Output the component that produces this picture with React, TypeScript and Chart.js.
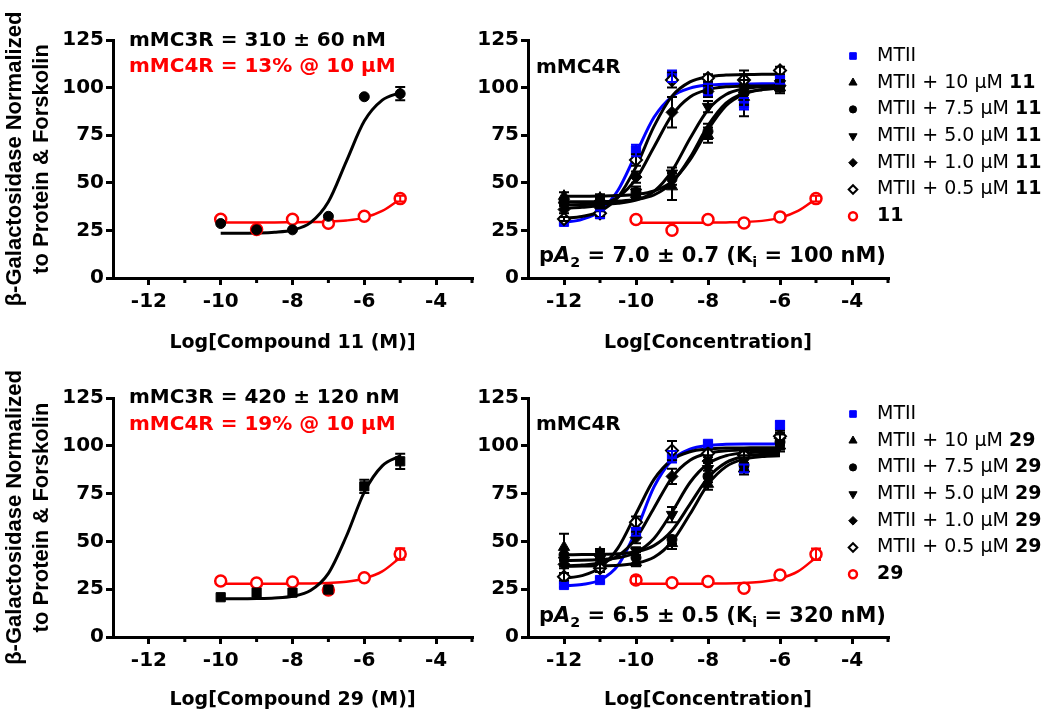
import React, { useEffect, useRef } from "react";
import { Chart, registerables } from "chart.js";

Chart.register(...registerables);

// ---------------- axes ----------------
const X_MIN = -13;
const X_MAX = -3;
const X_TICKS = [-12, -10, -8, -6, -4];
const X_MINOR_TICKS = [-11, -9, -7, -5, -3];
const Y_MIN = 0;
const Y_MAX = 125;
const Y_STEP = 25;

// ---------------- x values ----------------
const AGONIST_X = [-12, -11, -10, -9, -8, -7, -6];
const AGONIST_CURVE_X = [-12, -11.5, -11, -10.5, -10, -9.5, -9, -8.5, -8, -7.5, -7, -6.5, -6];
const COMPOUND_X = [-10, -9, -8, -7, -6, -5];
const COMPOUND_CURVE_X = [-10, -9.5, -9, -8.5, -8, -7.5, -7, -6.5, -6, -5.5, -5];

// ---------------- top-left: compound 11 ----------------
const C11_MC3R = [28.6, 25.3, 25.3, 32.4, 95.2, 96.8];
const C11_MC3R_ERR = [0, 0, 0, 0, 0, 3.5];
const C11_MC3R_FIT = [23.5, 23.5, 23.6, 24.0, 25.2, 29.1, 40.1, 61.3, 82.4, 93.4, 97.4];
const C11_MC4R = [30.9, 25.5, 30.9, 28.8, 32.4, 41.7];
const C11_MC4R_ERR = [0, 0, 0, 0, 0, 1.5];
const C11_MC4R_FIT = [29.2, 29.2, 29.2, 29.2, 29.3, 29.4, 29.6, 30.2, 31.7, 35.2, 41.5];

// ---------------- bottom-left: compound 29 ----------------
const C29_MC3R = [20.8, 23.2, 23.2, 24.8, 78.8, 91.9];
const C29_MC3R_ERR = [0, 0, 0, 0, 3.5, 4];
const C29_MC3R_FIT = [20.0, 20.0, 20.1, 20.4, 21.3, 24.3, 33.3, 52.7, 75.8, 89.5, 94.7];
const C29_MC4R = [29.3, 28.2, 28.8, 24.6, 31.0, 43.4];
const C29_MC4R_ERR = [0, 0, 0, 0, 0, 3];
const C29_MC4R_FIT = [27.8, 27.8, 27.8, 27.8, 27.9, 28.0, 28.3, 28.9, 30.6, 34.3, 41.6];

// ---------------- top-right: MTII + compound 11 at mMC4R ----------------
const TR_MTII = [29.5, 33.5, 67, 106, 99, 91.5, 104];
const TR_MTII_ERR = [0, 2, 3, 3, 3, 3, 2];
const TR_MTII_FIT = [29.2, 30.8, 35.2, 46.1, 65.3, 84.4, 95.3, 99.7, 101.3, 101.8, 101.9, 102.0, 102.0];
const TR_10 = [43, 42, 44, 48, 75, 95, 100];
const TR_10_ERR = [2, 2, 2, 7, 4, 4, 3];
const TR_10_FIT = [43.0, 43.0, 43.1, 43.3, 43.9, 45.7, 50.8, 62.0, 77.9, 90.5, 96.6, 98.9, 99.7];
const TR_75 = [40, 40, 45, 52, 77, 97, 101];
const TR_75_ERR = [2, 2, 3, 3, 4, 12, 3];
const TR_75_FIT = [40.0, 40.0, 40.1, 40.4, 41.2, 43.6, 50.0, 63.2, 80.0, 91.8, 97.1, 99.0, 99.7];
const TR_50 = [38, 39, 45, 55, 90, 96, 102];
const TR_50_ERR = [2, 2, 2, 3, 3, 5, 2];
const TR_50_FIT = [38.5, 38.6, 38.8, 39.3, 40.9, 45.5, 56.3, 73.3, 88.4, 96.4, 99.4, 100.5, 100.8];
const TR_1 = [36, 37, 53, 87, 98, 101, 101];
const TR_1_ERR = [2, 2, 3, 8, 3, 3, 2];
const TR_1_FIT = [36.7, 37.1, 38.5, 42.4, 52.0, 68.8, 85.5, 95.1, 99.0, 100.4, 100.8, 100.9, 101.0];
const TR_05 = [31, 34, 62, 104, 105, 104, 109];
const TR_05_ERR = [1, 2, 3, 4, 2, 3, 2];
const TR_05_FIT = [31.4, 32.3, 35.0, 42.5, 58.4, 79.6, 95.5, 103.0, 105.7, 106.6, 106.8, 107.0, 107.0];
const TR_CMP = [30.7, 25.1, 30.7, 28.9, 32.1, 41.7];
const TR_CMP_ERR = [0, 0, 0, 0, 0, 1.5];
const TR_CMP_FIT = [29.0, 29.0, 29.0, 29.0, 29.1, 29.2, 29.4, 30.0, 31.6, 35.2, 41.6];

// ---------------- bottom-right: MTII + compound 29 at mMC4R ----------------
const BR_MTII = [27.2, 29.8, 55, 94.3, 101, 88.2, 110.9];
const BR_MTII_ERR = [1, 1, 2, 3, 1, 2, 2];
const BR_MTII_FIT = [26.8, 27.5, 29.8, 37.5, 55.5, 78.5, 92.5, 98.2, 100.2, 100.8, 101.0, 101.0, 101.0];
const BR_10 = [47, 44, 39, 49, 80, 88, 100];
const BR_10_ERR = [7, 2, 2, 3, 3, 3, 3];
const BR_10_FIT = [37.0, 37.1, 37.2, 37.5, 38.6, 41.7, 49.8, 64.3, 79.8, 89.1, 93.0, 94.4, 94.8];
const BR_75 = [43, 43, 41.5, 51, 84, 90, 102];
const BR_75_ERR = [3, 2, 3, 2, 3, 3, 4];
const BR_75_FIT = [43.0, 43.1, 43.2, 43.5, 44.6, 47.8, 55.7, 69.5, 83.3, 91.2, 94.4, 95.5, 95.8];
const BR_50 = [40, 41, 45, 64, 88, 92, 103];
const BR_50_ERR = [3, 2, 2, 4, 3, 3, 3];
const BR_50_FIT = [40.0, 40.1, 40.5, 41.4, 44.2, 51.5, 65.3, 80.8, 90.6, 94.8, 96.3, 96.8, 96.9];
const BR_1 = [38, 38, 52, 84, 92, 96, 104];
const BR_1_ERR = [2, 2, 3, 4, 3, 2, 3];
const BR_1_FIT = [37.2, 37.6, 38.9, 42.5, 51.6, 67.5, 83.4, 92.4, 96.1, 97.4, 97.8, 98.0, 98.0];
const BR_05 = [31.5, 36, 60, 97.5, 96, 95, 105];
const BR_05_ERR = [2, 2, 3, 5, 2, 2, 3];
const BR_05_FIT = [30.7, 32.1, 36.3, 46.6, 64.5, 82.4, 92.7, 96.9, 98.3, 98.8, 98.9, 99.0, 99.0];
const BR_CMP = [29.8, 28.4, 29.0, 25.5, 32.4, 43.3];
const BR_CMP_ERR = [2, 0, 0, 0, 0, 3];
const BR_CMP_FIT = [27.8, 27.8, 27.8, 27.8, 27.9, 28.0, 28.3, 28.9, 30.6, 34.3, 41.6];

// ---------------- labels ----------------
const LEGEND_PREFIXES = ["MTII", "MTII + 10 μM ", "MTII + 7.5 μM ", "MTII + 5.0 μM ", "MTII + 1.0 μM ", "MTII + 0.5 μM ", ""];
const Y_TITLE = ["β-Galactosidase Normalized", "to Protein & Forskolin"];

// ---------------- styles ----------------
const BLUE = "#0000ff";
const RED = "#ff0000";
const BLACK = "#000000";
const FAMILY = "'DejaVu Sans', 'Noto Sans', sans-serif";
const TITLE_FAMILY = "'Liberation Sans', Arial, sans-serif";
const TICK_FONT = { family: FAMILY, size: 20, weight: "bold", lineHeight: 1.2 };
const X_TITLE_FONT = { family: FAMILY, size: 19, weight: "bold", lineHeight: 1.2 };
const Y_TITLE_FONT = { family: TITLE_FAMILY, size: 22, weight: "bold", lineHeight: 1.25 };

const M_MTII = { pointStyle: "rect", rotation: 0, radius: 6.5, fill: BLUE, stroke: BLUE, lw: 1, line: BLUE, lineWidth: 3 };
const M_10 = { pointStyle: "triangle", rotation: 0, radius: 6.5, fill: BLACK, stroke: BLACK, lw: 1, line: BLACK, lineWidth: 3 };
const M_75 = { pointStyle: "circle", rotation: 0, radius: 5, fill: BLACK, stroke: BLACK, lw: 1, line: BLACK, lineWidth: 3 };
const M_50 = { pointStyle: "triangle", rotation: 180, radius: 6.5, fill: BLACK, stroke: BLACK, lw: 1, line: BLACK, lineWidth: 3 };
const M_1 = { pointStyle: "rectRot", rotation: 0, radius: 6, fill: BLACK, stroke: BLACK, lw: 1, line: BLACK, lineWidth: 3 };
const M_05 = { pointStyle: "rectRot", rotation: 0, radius: 6, fill: "#ffffff", stroke: BLACK, lw: 2, line: BLACK, lineWidth: 3 };
const M_CMP = { pointStyle: "circle", rotation: 0, radius: 5.5, fill: "#ffffff", stroke: RED, lw: 2.5, line: RED, lineWidth: 2.5 };
const M_BLACK_SQ = { pointStyle: "rect", rotation: 0, radius: 6.5, fill: BLACK, stroke: BLACK, lw: 1, line: BLACK, lineWidth: 3 };
const RIGHT_MARKERS = [M_MTII, M_10, M_75, M_50, M_1, M_05, M_CMP];

// ---------------- helpers ----------------
function pts(xs: number[], ys: number[]) {
  return xs.map((x, i) => ({ x, y: ys[i] }));
}

function pointDataset(label: string, xs: number[], ys: number[], errs: number[], m: any) {
  return {
    label,
    data: pts(xs, ys),
    errors: errs,
    errorColor: m.stroke,
    showLine: false,
    pointStyle: m.pointStyle,
    pointRotation: m.rotation,
    pointRadius: m.radius,
    pointBackgroundColor: m.fill,
    pointBorderColor: m.stroke,
    pointBorderWidth: m.lw,
    backgroundColor: m.fill,
    borderColor: m.stroke,
  };
}

function curveDataset(label: string, xs: number[], ys: number[], color: string, width: number) {
  return {
    label,
    data: pts(xs, ys),
    showLine: true,
    pointRadius: 0,
    borderColor: color,
    backgroundColor: color,
    borderWidth: width,
    cubicInterpolationMode: "monotone",
    fill: false,
  };
}

const errorBarPlugin = {
  id: "errorBars",
  afterDatasetsDraw(chart: any) {
    const { ctx } = chart;
    const ys = chart.scales.y;
    chart.data.datasets.forEach((ds: any, di: number) => {
      if (!ds.errors) return;
      const meta = chart.getDatasetMeta(di);
      ctx.save();
      ctx.strokeStyle = ds.errorColor;
      ctx.lineWidth = 2;
      meta.data.forEach((pt: any, i: number) => {
        const e = ds.errors[i];
        if (!e) return;
        const v = ds.data[i].y;
        const y1 = ys.getPixelForValue(v - e);
        const y2 = ys.getPixelForValue(v + e);
        const x = pt.x;
        ctx.beginPath();
        ctx.moveTo(x, y1);
        ctx.lineTo(x, y2);
        ctx.moveTo(x - 5, y1);
        ctx.lineTo(x + 5, y1);
        ctx.moveTo(x - 5, y2);
        ctx.lineTo(x + 5, y2);
        ctx.stroke();
      });
      ctx.restore();
    });
  },
};

const minorTickPlugin = {
  id: "minorTicks",
  afterDraw(chart: any) {
    const { ctx, chartArea } = chart;
    const xs = chart.scales.x;
    ctx.save();
    ctx.strokeStyle = BLACK;
    ctx.lineWidth = 3;
    ctx.beginPath();
    X_MINOR_TICKS.forEach((v) => {
      const px = xs.getPixelForValue(v);
      ctx.moveTo(px, chartArea.bottom);
      ctx.lineTo(px, chartArea.bottom + 5);
    });
    ctx.stroke();
    ctx.restore();
  },
};

function drawMarker(ctx: any, m: any, x: number, y: number, scale: number) {
  const r = m.radius * scale;
  ctx.save();
  ctx.fillStyle = m.fill;
  ctx.strokeStyle = m.stroke;
  ctx.lineWidth = m.lw;
  ctx.beginPath();
  if (m.pointStyle === "rect") {
    const s = r * Math.SQRT1_2;
    ctx.rect(x - s, y - s, 2 * s, 2 * s);
  } else if (m.pointStyle === "rectRot") {
    ctx.moveTo(x - r, y);
    ctx.lineTo(x, y - r);
    ctx.lineTo(x + r, y);
    ctx.lineTo(x, y + r);
    ctx.closePath();
  } else if (m.pointStyle === "triangle") {
    let rad = (m.rotation * Math.PI) / 180;
    ctx.moveTo(x + Math.sin(rad) * r, y - Math.cos(rad) * r);
    rad += (2 * Math.PI) / 3;
    ctx.lineTo(x + Math.sin(rad) * r, y - Math.cos(rad) * r);
    rad += (2 * Math.PI) / 3;
    ctx.lineTo(x + Math.sin(rad) * r, y - Math.cos(rad) * r);
    ctx.closePath();
  } else {
    ctx.arc(x, y, r, 0, Math.PI * 2);
  }
  ctx.fill();
  ctx.stroke();
  ctx.restore();
}

function legendPlugin(compound: string) {
  return {
    id: "sideLegend",
    afterDraw(chart: any) {
      const { ctx, chartArea } = chart;
      const mx = chartArea.right - 35;
      const tx = chartArea.right - 11;
      RIGHT_MARKERS.forEach((m, i) => {
        const y = chartArea.top + 16 + i * 26.7;
        drawMarker(ctx, m, mx, y, 0.72);
        const prefix = LEGEND_PREFIXES[i];
        const suffix = i === 0 ? "" : compound;
        ctx.save();
        ctx.fillStyle = BLACK;
        ctx.textBaseline = "middle";
        ctx.textAlign = "left";
        ctx.font = `normal 19px ${FAMILY}`;
        ctx.fillText(prefix, tx, y);
        const w = ctx.measureText(prefix).width;
        ctx.font = `bold 19px ${FAMILY}`;
        ctx.fillText(suffix, tx + w, y);
        ctx.restore();
      });
    },
  };
}

function notesPlugin(notes: any[]) {
  return {
    id: "notes",
    afterDraw(chart: any) {
      const { ctx, chartArea } = chart;
      notes.forEach((n) => {
        let x = chartArea.left + n.dx;
        const y = chartArea.top + n.dy;
        n.runs.forEach((r: any) => {
          const size = r.sub ? n.size * 0.68 : n.size;
          ctx.save();
          ctx.font = `${r.italic ? "italic " : ""}bold ${size}px ${FAMILY}`;
          ctx.fillStyle = n.color;
          ctx.textBaseline = "middle";
          ctx.textAlign = "left";
          ctx.fillText(r.t, x, y + (r.sub ? n.size * 0.32 : 0));
          x += ctx.measureText(r.t).width;
          ctx.restore();
        });
      });
    },
  };
}

function makeScales(xTitle: string, yTitle: any, xHeight: number, yWidth: number) {
  const grid = {
    display: true,
    drawOnChartArea: false,
    drawTicks: true,
    tickLength: 7,
    tickWidth: 3,
    tickColor: BLACK,
    color: BLACK,
    lineWidth: 3,
  };
  const border = { display: true, color: BLACK, width: 3 };
  return {
    x: {
      type: "linear",
      min: X_MIN,
      max: X_MAX,
      grid,
      border,
      afterBuildTicks: (s: any) => {
        s.ticks = X_TICKS.map((v) => ({ value: v }));
      },
      afterFit: (s: any) => {
        s.height = xHeight;
      },
      ticks: {
        color: BLACK,
        font: TICK_FONT,
        padding: 5,
        maxRotation: 0,
        autoSkip: false,
        callback: (v: any) => String(v),
      },
      title: { display: true, text: xTitle, color: BLACK, font: X_TITLE_FONT, padding: 0 },
    },
    y: {
      type: "linear",
      min: Y_MIN,
      max: Y_MAX,
      grid,
      border,
      afterFit: (s: any) => {
        s.width = yWidth;
      },
      ticks: { stepSize: Y_STEP, color: BLACK, font: TICK_FONT, padding: 2 },
      title: {
        display: !!yTitle,
        text: yTitle || "",
        color: BLACK,
        font: Y_TITLE_FONT,
        padding: { top: 1, bottom: 0 },
      },
    },
  };
}

function baseConfig(datasets: any[], scales: any, padding: any, plugins: any[]) {
  return {
    type: "scatter",
    data: { datasets },
    options: {
      animation: false,
      responsive: false,
      maintainAspectRatio: false,
      events: [],
      layout: { padding },
      scales,
      plugins: { legend: { display: false }, tooltip: { enabled: false } },
    },
    plugins: [errorBarPlugin, minorTickPlugin, ...plugins],
  };
}

function leftConfig(top: boolean, compound: string, mc3: number[], mc3Err: number[], mc3Fit: number[], mc4: number[], mc4Err: number[], mc4Fit: number[], mc3Marker: any, line1: string, line2: string) {
  const datasets = [
    pointDataset("mMC3R", COMPOUND_X, mc3, mc3Err, mc3Marker),
    pointDataset("mMC4R", COMPOUND_X, mc4, mc4Err, M_CMP),
    curveDataset("mMC3R fit", COMPOUND_CURVE_X, mc3Fit, BLACK, 3),
    curveDataset("mMC4R fit", COMPOUND_CURVE_X, mc4Fit, RED, 2.5),
  ];
  const xHeight = top ? 76 : 74;
  const padding = top ? { left: 0, right: 7, top: 40, bottom: 6 } : { left: 0, right: 7, top: 38, bottom: 10 };
  const notes = [
    { dx: 16, dy: top ? 1 : 0, color: BLACK, size: 20, runs: [{ t: line1 }] },
    { dx: 16, dy: 27, color: RED, size: 20, runs: [{ t: line2 }] },
  ];
  return baseConfig(datasets, makeScales(`Log[Compound ${compound} (M)]`, Y_TITLE, xHeight, 113), padding, [notesPlugin(notes)]);
}

function rightConfig(top: boolean, compound: string, series: any[], pA2: string, ki: string) {
  const pointSets: any[] = [];
  const curveSets: any[] = [];
  // black series first so they draw above the blue and red ones
  const order = [5, 4, 3, 2, 1, 0, 6];
  order.forEach((i) => {
    const s = series[i];
    const m = RIGHT_MARKERS[i];
    const xs = i === 6 ? COMPOUND_X : AGONIST_X;
    const cx = i === 6 ? COMPOUND_CURVE_X : AGONIST_CURVE_X;
    pointSets.push(pointDataset(s.label, xs, s.y, s.err, m));
    curveSets.push(curveDataset(s.label + " fit", cx, s.fit, m.line, m.lineWidth));
  });
  const xHeight = top ? 76 : 74;
  const padding = top ? { left: 0, right: 162, top: 40, bottom: 6 } : { left: 0, right: 162, top: 38, bottom: 10 };
  const notes = [
    { dx: 8, dy: top ? 28 : 27, color: BLACK, size: 20, runs: [{ t: "mMC4R" }] },
    {
      dx: 11,
      dy: top ? 217 : 219,
      color: BLACK,
      size: 21,
      runs: [
        { t: "p" },
        { t: "A", italic: true },
        { t: "2", sub: true },
        { t: ` = ${pA2} (K` },
        { t: "i", sub: true },
        { t: ` = ${ki} nM)` },
      ],
    },
  ];
  return baseConfig(
    [...pointSets, ...curveSets],
    makeScales("Log[Concentration]", null, xHeight, 68),
    padding,
    [notesPlugin(notes), legendPlugin(compound)]
  );
}

function Panel({ left, top, width, height, build }: any) {
  const ref = useRef<HTMLCanvasElement>(null);
  useEffect(() => {
    const chart = new Chart(ref.current as HTMLCanvasElement, build());
    return () => chart.destroy();
  }, []);
  return (
    <div style={{ position: "absolute", left, top, width, height }}>
      <canvas ref={ref} width={width} height={height} style={{ width, height, display: "block" }} />
    </div>
  );
}

export default function App() {
  const trSeries = [
    { label: "MTII", y: TR_MTII, err: TR_MTII_ERR, fit: TR_MTII_FIT },
    { label: "MTII + 10 μM 11", y: TR_10, err: TR_10_ERR, fit: TR_10_FIT },
    { label: "MTII + 7.5 μM 11", y: TR_75, err: TR_75_ERR, fit: TR_75_FIT },
    { label: "MTII + 5.0 μM 11", y: TR_50, err: TR_50_ERR, fit: TR_50_FIT },
    { label: "MTII + 1.0 μM 11", y: TR_1, err: TR_1_ERR, fit: TR_1_FIT },
    { label: "MTII + 0.5 μM 11", y: TR_05, err: TR_05_ERR, fit: TR_05_FIT },
    { label: "11", y: TR_CMP, err: TR_CMP_ERR, fit: TR_CMP_FIT },
  ];
  const brSeries = [
    { label: "MTII", y: BR_MTII, err: BR_MTII_ERR, fit: BR_MTII_FIT },
    { label: "MTII + 10 μM 29", y: BR_10, err: BR_10_ERR, fit: BR_10_FIT },
    { label: "MTII + 7.5 μM 29", y: BR_75, err: BR_75_ERR, fit: BR_75_FIT },
    { label: "MTII + 5.0 μM 29", y: BR_50, err: BR_50_ERR, fit: BR_50_FIT },
    { label: "MTII + 1.0 μM 29", y: BR_1, err: BR_1_ERR, fit: BR_1_FIT },
    { label: "MTII + 0.5 μM 29", y: BR_05, err: BR_05_ERR, fit: BR_05_FIT },
    { label: "29", y: BR_CMP, err: BR_CMP_ERR, fit: BR_CMP_FIT },
  ];
  return (
    <div style={{ position: "fixed", left: 0, top: 0, width: 1050, height: 721, background: "#ffffff", overflow: "hidden" }}>
      <Panel
        left={0}
        top={0}
        width={480}
        height={360}
        build={() =>
          leftConfig(true, "11", C11_MC3R, C11_MC3R_ERR, C11_MC3R_FIT, C11_MC4R, C11_MC4R_ERR, C11_MC4R_FIT, M_75,
            "mMC3R = 310 ± 60 nM", "mMC4R = 13% @ 10 μM")
        }
      />
      <Panel
        left={0}
        top={360}
        width={480}
        height={361}
        build={() =>
          leftConfig(false, "29", C29_MC3R, C29_MC3R_ERR, C29_MC3R_FIT, C29_MC4R, C29_MC4R_ERR, C29_MC4R_FIT, M_BLACK_SQ,
            "mMC3R = 420 ± 120 nM", "mMC4R = 19% @ 10 μM")
        }
      />
      <Panel left={460} top={0} width={590} height={360} build={() => rightConfig(true, "11", trSeries, "7.0 ± 0.7", "100")} />
      <Panel left={460} top={360} width={590} height={361} build={() => rightConfig(false, "29", brSeries, "6.5 ± 0.5", "320")} />
    </div>
  );
}
